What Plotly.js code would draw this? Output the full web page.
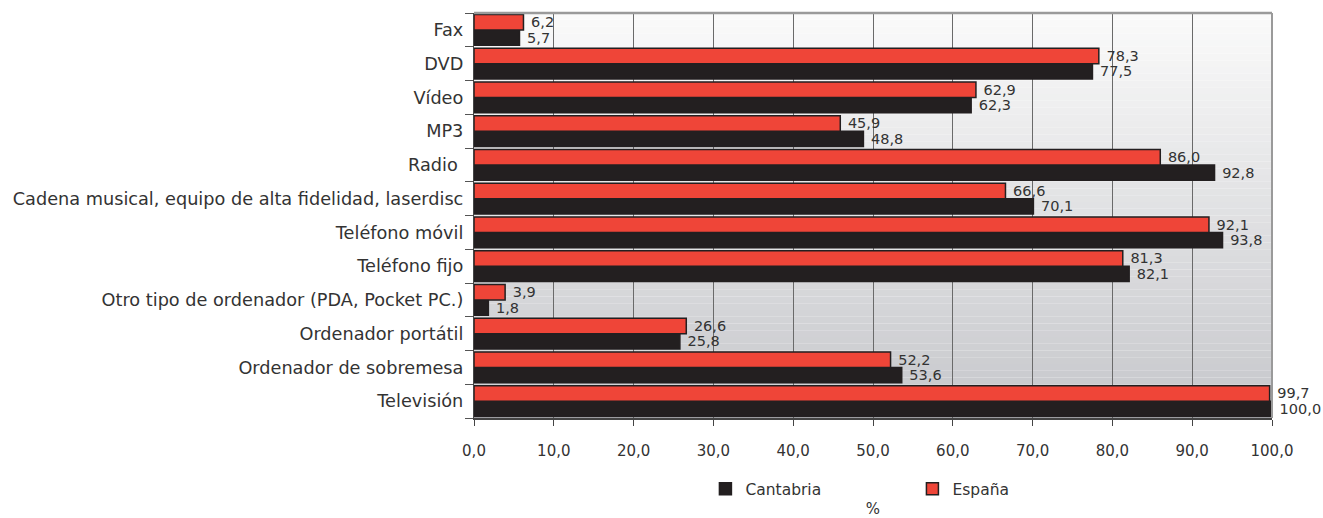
<!DOCTYPE html>
<html>
<head>
<meta charset="utf-8">
<script src="https://cdn.plot.ly/plotly-3.0.1.min.js"></script>
<style>html,body{margin:0;padding:0;background:#fff;}#chart{width:1323px;height:518px;}</style>
</head>
<body>
<div id="chart"></div>
<script>
// Categories as read from top to bottom
const categories = [
  "Fax", "DVD", "Vídeo", "MP3", "Radio\u00a0",
  "Cadena musical, equipo de alta fidelidad, laserdisc",
  "Teléfono móvil", "Teléfono fijo",
  "Otro tipo de ordenador (PDA, Pocket PC.)",
  "Ordenador portátil", "Ordenador de sobremesa", "Televisión"
];
const espana    = [6.2, 78.3, 62.9, 45.9, 86.0, 66.6, 92.1, 81.3, 3.9, 26.6, 52.2, 99.7];
const cantabria = [5.7, 77.5, 62.3, 48.8, 92.8, 70.1, 93.8, 82.1, 1.8, 25.8, 53.6, 100.0];
const xTicks = [0, 10, 20, 30, 40, 50, 60, 70, 80, 90, 100];

const cats = categories.slice().reverse();
const esp = espana.slice().reverse();
const can = cantabria.slice().reverse();

const FONT = "DejaVu Sans";
const DARK = "#231f20";
const RED = "#ef4538";

const common = {
  type: "bar", orientation: "h", y: cats,
  texttemplate: " %{x:.1f}", textposition: "outside", cliponaxis: false,
  constraintext: "none",
  textfont: {family: FONT, size: 14.5, color: "#333"},
  hoverinfo: "skip"
};
const traces = [
  Object.assign({}, common, {name: "Cantabria", x: can,
    marker: {color: DARK, line: {color: DARK, width: 1.5}}}),
  Object.assign({}, common, {name: "España", x: esp,
    marker: {color: RED, line: {color: DARK, width: 1.5}}})
];

// gradient background made of thin bands
const shapes = [];
const N = 60;
for (let i = 0; i < N; i++) {
  const t = i / (N - 1);
  const c0 = [250, 250, 250], c1 = [198, 199, 203];
  const c = c0.map((v, k) => Math.round(v + (c1[k] - v) * t));
  shapes.push({type: "rect", xref: "paper", yref: "paper", layer: "below",
    x0: 0, x1: 1, y0: 1 - (i + 1) / N, y1: 1 - i / N,
    fillcolor: `rgb(${c[0]},${c[1]},${c[2]})`, line: {width: 0}});
}
shapes.push({type: "line", xref: "paper", yref: "paper", x0: 0, x1: 1, y0: 1, y1: 1,
  line: {color: "#9a9a9a", width: 2.5}});
shapes.push({type: "line", xref: "paper", yref: "paper", x0: 1, x1: 1, y0: 0, y1: 1,
  line: {color: "#9a9a9a", width: 2}});

const layout = {
  width: 1323, height: 518,
  margin: {l: 474, r: 51, t: 13, b: 95},
  paper_bgcolor: "#fff", plot_bgcolor: "rgba(0,0,0,0)",
  separators: ", ",
  barmode: "group", bargap: 0.09, bargroupgap: 0,
  font: {family: FONT, size: 15, color: "#333"},
  showlegend: true,
  legend: {orientation: "h", x: 0.29, xanchor: "left", y: -0.176, yanchor: "middle",
    traceorder: "normal", font: {family: FONT, size: 15.5, color: "#333"},
    entrywidth: 162, entrywidthmode: "pixels", bgcolor: "rgba(0,0,0,0)"},
  xaxis: {
    range: [0, 100], tickvals: xTicks, tickformat: ".1f", automargin: false,
    showgrid: true, gridcolor: "#6a6a6a", gridwidth: 1,
    showline: true, linecolor: "#444", linewidth: 1.5,
    ticks: "outside", ticklen: 6, tickcolor: "#444", ticklabelstandoff: 12,
    tickfont: {family: FONT, size: 15, color: "#333"},
    zeroline: false, fixedrange: true,
    title: {text: "%", standoff: 60, font: {family: FONT, size: 15, color: "#333"}}
  },
  yaxis: {
    type: "category", categoryorder: "array", categoryarray: cats, automargin: false,
    showline: true, linecolor: "#444", linewidth: 1.5,
    ticks: "outside", ticklen: 8, tickcolor: "#555", tickson: "boundaries",
    showgrid: false, ticksuffix: "\u00a0",
    tickfont: {family: FONT, size: 17.7, color: "#333"}, fixedrange: true
  },
  shapes: shapes
};

Plotly.newPlot("chart", traces, layout, {displayModeBar: false, staticPlot: true});
</script>
</body>
</html>
